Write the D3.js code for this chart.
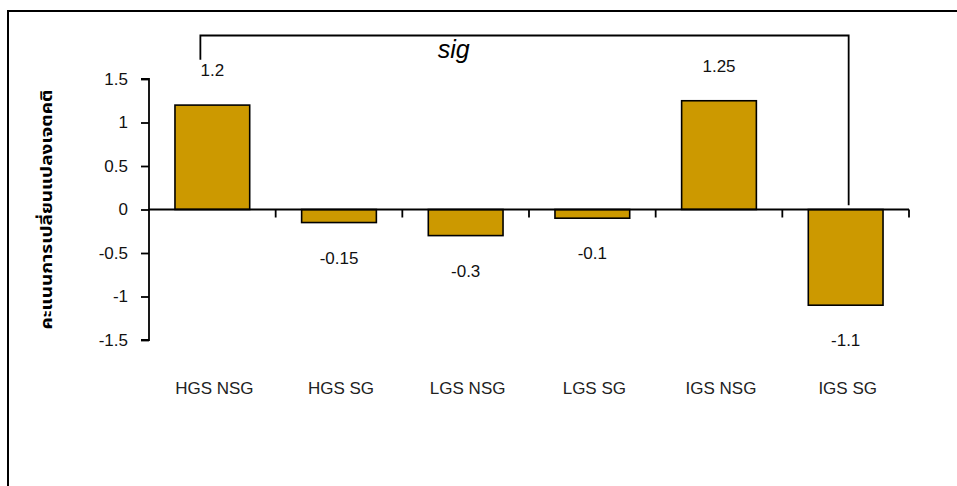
<!DOCTYPE html>
<html>
<head>
<meta charset="utf-8">
<script src="https://cdn.jsdelivr.net/npm/d3@7"></script>
<style>
  html, body { margin: 0; padding: 0; background: #fff; }
  svg { display: block; }
</style>
</head>
<body>
<svg id="chart" width="957" height="486"></svg>
<script>
const categories = ["HGS NSG", "HGS SG", "LGS NSG", "LGS SG", "IGS NSG", "IGS SG"];
const values = [1.2, -0.15, -0.3, -0.1, 1.25, -1.1];
const valueLabels = ["1.2", "-0.15", "-0.3", "-0.1", "1.25", "-1.1"];
const yTicks = [-1.5, -1, -0.5, 0, 0.5, 1, 1.5];
const yTickLabels = ["-1.5", "-1", "-0.5", "0", "0.5", "1", "1.5"];
const yTitle = "คะแนนการเปลี่ยนแปลงเจตคติ";
const sigFrom = "HGS NSG", sigTo = "IGS SG";
const sigTop = 2.0, sigLeftEnd = 1.72, sigRightEnd = 0.05;
const sigText = "sig";

const svg = d3.select("#chart");
const font = "'Liberation Sans', Arial, sans-serif";

// outer frame (top and left edges visible)
svg.append("path")
  .attr("d", "M8,486 V11 H957")
  .attr("fill", "none").attr("stroke", "#000").attr("stroke-width", 2);

const x = d3.scaleBand().domain(categories).range([149, 909]).paddingInner(0.41).paddingOuter(0.205);
const y = d3.scaleLinear().domain([-1.5, 1.5]).range([340, 79]);
const step = x.step();
const x0 = x.range()[0];

// bars
svg.append("g").selectAll("rect").data(values).join("rect")
  .attr("x", (d, i) => x(categories[i]))
  .attr("width", x.bandwidth())
  .attr("y", d => y(Math.max(0, d)))
  .attr("height", d => Math.abs(y(d) - y(0)))
  .attr("fill", "#CC9900")
  .attr("stroke", "#000")
  .attr("stroke-width", 1.6);

// y axis
const yAxis = d3.axisLeft(y).tickValues(yTicks).tickSize(8).tickPadding(13)
  .tickFormat((d, i) => yTickLabels[i]);
const gy = svg.append("g").attr("transform", `translate(${x0},0)`).call(yAxis);
gy.select(".domain").attr("d", `M-8,${y(-1.5)}H0V${y(1.5)}H-8`).attr("stroke-width", 1.8);
gy.selectAll(".tick line").attr("stroke-width", 1.8);
gy.selectAll("text").attr("font-family", font).attr("font-size", 17).attr("fill", "#111");

// x axis line at zero with boundary ticks
const boundaries = d3.range(1, categories.length + 1).map(i => x0 + i * step);
svg.append("line")
  .attr("x1", x0).attr("x2", x.range()[1])
  .attr("y1", y(0)).attr("y2", y(0))
  .attr("stroke", "#000").attr("stroke-width", 1.8);
svg.append("g").selectAll("line").data(boundaries).join("line")
  .attr("x1", d => d).attr("x2", d => d)
  .attr("y1", y(0)).attr("y2", y(0) + 8)
  .attr("stroke", "#000").attr("stroke-width", 1.8);

// category labels
svg.append("g").selectAll("text").data(categories).join("text")
  .attr("x", d => x(d) + x.bandwidth() / 2 + 2)
  .attr("y", 394)
  .attr("text-anchor", "middle")
  .attr("font-family", font).attr("font-size", 17).attr("fill", "#222")
  .text(d => d);

// value labels
svg.append("g").selectAll("text").data(values).join("text")
  .attr("x", (d, i) => x(categories[i]) + x.bandwidth() / 2)
  .attr("y", d => d >= 0 ? y(d) - 29 : y(d) + 41)
  .attr("text-anchor", "middle")
  .attr("font-family", font).attr("font-size", 17).attr("fill", "#111")
  .text((d, i) => valueLabels[i]);

// y title
svg.append("text")
  .attr("transform", `translate(52,${(y(1.5) + y(-1.5)) / 2}) rotate(-90)`)
  .attr("text-anchor", "middle")
  .attr("font-family", "'Noto Sans Thai', 'Noto Sans', 'DejaVu Sans', sans-serif")
  .attr("font-weight", "bold")
  .attr("font-size", 16)
  .attr("textLength", 240)
  .attr("lengthAdjust", "spacingAndGlyphs")
  .attr("fill", "#000")
  .text(yTitle);

// significance bracket
const lx = x(sigFrom) + x.bandwidth() * 0.34;
const rx = x(sigTo) + x.bandwidth() * 0.54;
svg.append("path")
  .attr("d", `M${lx},${y(sigLeftEnd)}V${y(sigTop)}H${rx}V${y(sigRightEnd)}`)
  .attr("fill", "none").attr("stroke", "#000").attr("stroke-width", 1.8);
svg.append("text")
  .attr("x", x(categories[2]) + x.bandwidth() / 2 - 28)
  .attr("y", 58)
  .attr("font-family", font).attr("font-style", "italic").attr("font-size", 25).attr("fill", "#000")
  .text(sigText);
</script>
</body>
</html>
